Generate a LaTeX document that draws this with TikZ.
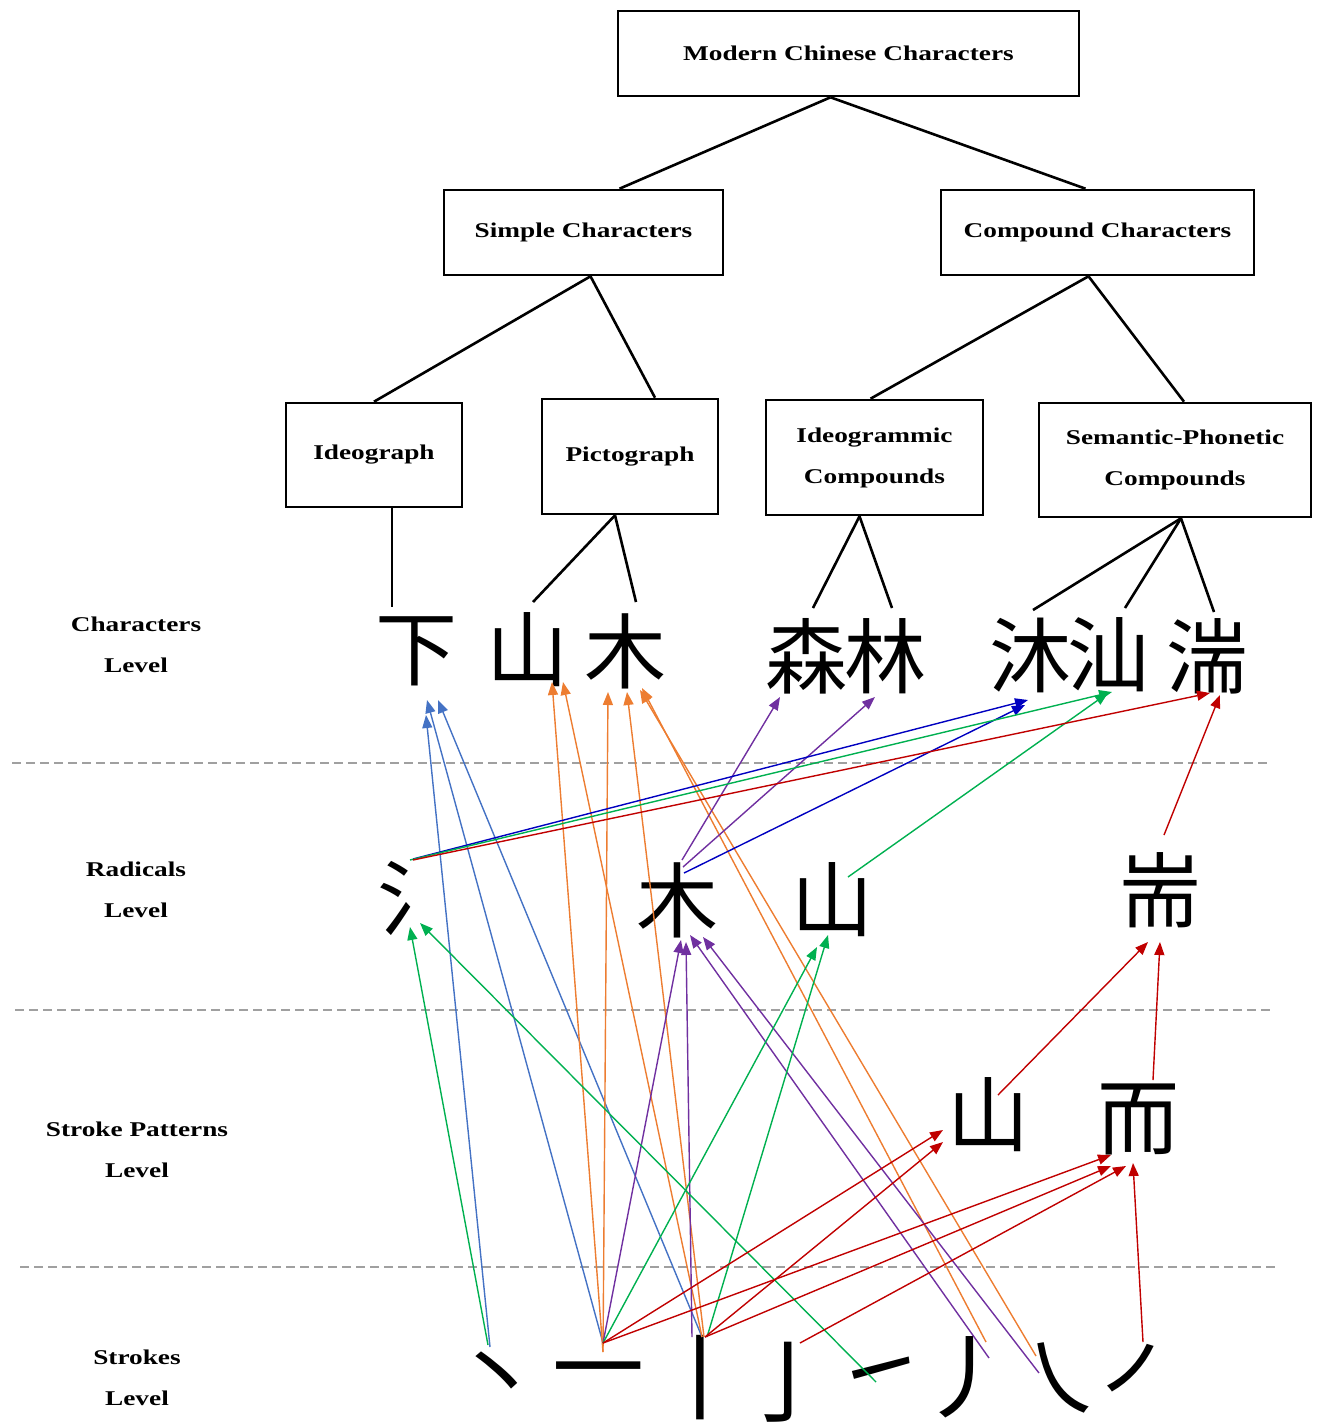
\documentclass[tikz,border=0pt]{standalone}
\usepackage{fontspec}
\setmainfont{Liberation Serif}
\newfontfamily\lblfont[FakeStretch=1.3]{Liberation Serif}
\newfontfamily\cjk{Noto Sans CJK SC}
\usetikzlibrary{arrows.meta,calc}
\definecolor{lblue}{HTML}{4472C4}
\definecolor{lorange}{HTML}{ED7D31}
\definecolor{lpurple}{HTML}{7030A0}
\definecolor{lgreen}{HTML}{00B050}
\definecolor{lred}{HTML}{C00000}
\definecolor{dblue}{HTML}{0000C0}
\definecolor{sepgray}{HTML}{A0A0A0}
\begin{document}
\begin{tikzpicture}[x=0.5pt,y=-0.5pt,
  box/.style={draw,line width=1.3pt,inner sep=0pt,align=center,
    font=\lblfont\bfseries\fontsize{10.5}{20.5}\selectfont},
  tree/.style={line width=1.3pt},
  lvl/.style={align=center,inner sep=0pt,
    font=\lblfont\bfseries\fontsize{10.5}{20.5}\selectfont},
  hz/.style={inner sep=0pt,font=\cjk\fontsize{41}{41}\selectfont},
  stk/.style={inner sep=0pt,font=\cjk\fontsize{46}{46}\selectfont},
  sep/.style={draw=sepgray,line width=0.75pt,dash pattern=on 4.5pt off 2.5pt},
  link/.style={line width=0.7pt,-{Triangle[length=6.5pt,width=5pt]}},
]
\useasboundingbox (0,0) rectangle (1317,1425);

% hierarchy boxes
\node[box,minimum width=230.5pt,minimum height=42.5pt] (top) at (848.5,53.5) {Modern Chinese Characters};
\node[box,minimum width=139.5pt,minimum height=42.5pt] (simple) at (583.5,232.5) {Simple Characters};
\node[box,minimum width=156.5pt,minimum height=42.5pt] (compound) at (1097.5,232.5) {Compound Characters};
\node[box,minimum width=88pt,minimum height=52pt] (ideo) at (374,455) {Ideograph};
\node[box,minimum width=88pt,minimum height=57.5pt] (picto) at (630,456.5) {Pictograph};
\node[box,minimum width=108.5pt,minimum height=57.5pt] (ideocomp) at (874.5,457.5) {Ideogrammic\\Compounds};
\node[box,minimum width=136pt,minimum height=57pt] (sempho) at (1175,460) {Semantic-Phonetic\\Compounds};

% level labels
\node[lvl] (l-char) at (136,645) {Characters\\Level};
\node[lvl] (l-rad) at (136,890) {Radicals\\Level};
\node[lvl] (l-pat) at (137,1150) {Stroke Patterns\\Level};
\node[lvl] (l-stk) at (137,1378) {Strokes\\Level};

% level separators
\draw[sep] (12,763) -- (1268,763);
\draw[sep] (15,1010) -- (1273,1010);
\draw[sep] (20,1267) -- (1280,1267);

% characters level
\node[hz] (c-xia) at (416,651) {下};
\node[hz] (c-shan) at (527,650) {山};
\node[hz] (c-mu) at (625,651) {木};
\node[hz] (c-sen) at (806,656) {森};
\node[hz] (c-lin) at (885,656) {林};
\node[hz] (c-mu2) at (1030,655) {沐};
\node[hz] (c-shan2) at (1108,655) {汕};
\node[hz] (c-tuan) at (1207,656) {湍};

% radicals level
\node[hz] (r-shui) at (418,898) {氵};
\node[hz] (r-mu) at (677,900) {木};
\node[hz] (r-shan) at (832,900) {山};
\node[hz] (r-duan) at (1160,890) {耑};

% stroke patterns level
\node[hz] (p-shan) at (988,1115) {山};
\node[hz] (p-er) at (1138,1119) {而};

% strokes level
\node[stk] (s-dian) at (497,1380) {丶};
\node[stk] (s-heng) at (598,1382) {一};
\node[stk] (s-shu) at (700,1378) {丨};
\node[stk] (s-gou) at (787,1382) {亅};
\node[stk] (s-ti) at (880,1380) {㇀};
\node[stk] (s-pie) at (965,1377) {丿};
\node[stk] (s-na) at (1060,1378) {㇏};
\node[stk] (s-pie2) at (1145,1380) {㇒};

% tree connectors
\draw[tree] ($(top.south)+(-18,0)$) -- ($(simple.north)+(36,0)$);
\draw[tree] ($(top.south)+(-18,0)$) -- ($(compound.north)+(-12,0)$);
\draw[tree] ($(simple.south)+(7,0)$) -- (ideo.north);
\draw[tree] ($(simple.south)+(7,0)$) -- ($(picto.north)+(25,0)$);
\draw[tree] ($(compound.south)+(-9,0)$) -- ($(ideocomp.north)+(-4,0)$);
\draw[tree] ($(compound.south)+(-9,0)$) -- ($(sempho.north)+(9,0)$);
\draw[tree] ($(ideo.south)+(18,0)$) -- ($(c-xia)+(-24,-44)$);
\draw[tree] ($(picto.south)+(-15,0)$) -- ($(c-shan)+(6,-48)$);
\draw[tree] ($(picto.south)+(-15,0)$) -- ($(c-mu)+(11,-49)$);
\draw[tree] ($(ideocomp.south)+(-15,0)$) -- ($(c-sen)+(7,-48)$);
\draw[tree] ($(ideocomp.south)+(-15,0)$) -- ($(c-lin)+(7,-48)$);
\draw[tree] ($(sempho.south)+(6,0)$) -- ($(c-mu2)+(3,-45)$);
\draw[tree] ($(sempho.south)+(6,0)$) -- ($(c-shan2)+(17,-47)$);
\draw[tree] ($(sempho.south)+(6,0)$) -- ($(c-tuan)+(7,-44)$);

% strokes -> 下
\draw[link,lblue] ($(s-dian)+(-7,-33)$) -- ($(c-xia)+(10,64)$);
\draw[link,lblue] ($(s-heng)+(5,-39)$) -- ($(c-xia)+(11,49)$);
\draw[link,lblue] ($(s-shu)+(2,-41)$) -- ($(c-xia)+(22,49)$);

% strokes -> 山, 木 (pictographs)
\draw[link,lorange] ($(s-heng)+(5,-30)$) -- ($(c-shan)+(25,32)$);
\draw[link,lorange] ($(s-shu)+(2,-41)$) -- ($(c-shan)+(36,32)$);
\draw[link,lorange] ($(s-heng)+(5,-30)$) -- ($(c-mu)+(-17,41)$);
\draw[link,lorange] ($(s-shu)+(4,-41)$) -- ($(c-mu)+(2,41)$);
\draw[link,lorange] ($(s-pie)+(21,-35)$) -- ($(c-mu)+(17,37)$);
\draw[link,lorange] ($(s-na)+(-24,-22)$) -- ($(c-mu)+(15,39)$);

% strokes -> 木 radical
\draw[link,lpurple] ($(s-heng)+(5,-39)$) -- ($(r-mu)+(4,40)$);
\draw[link,lpurple] ($(s-shu)+(-8,-41)$) -- ($(r-mu)+(9,42)$);
\draw[link,lpurple] ($(s-pie)+(24,-19)$) -- ($(r-mu)+(13,35)$);
\draw[link,lpurple] ($(s-na)+(-21,-5)$) -- ($(r-mu)+(26,37)$);

% strokes -> 氵, 山 radicals
\draw[link,lgreen] ($(s-dian)+(-9,-35)$) -- ($(r-shui)+(-8,29)$);
\draw[link,lgreen] ($(s-ti)+(-4,2)$) -- ($(r-shui)+(2,25)$);
\draw[link,lgreen] ($(s-heng)+(5,-39)$) -- ($(r-shan)+(-15,47)$);
\draw[link,lgreen] ($(s-shu)+(7,-41)$) -- ($(r-shan)+(-4,35)$);

% strokes -> 山, 而 patterns
\draw[link,lred] ($(s-heng)+(5,-39)$) -- ($(p-shan)+(-45,15)$);
\draw[link,lred] ($(s-shu)+(5,-41)$) -- ($(p-shan)+(-45,27)$);
\draw[link,lred] ($(s-heng)+(5,-39)$) -- ($(p-er)+(-27,36)$);
\draw[link,lred] ($(s-shu)+(5,-41)$) -- ($(p-er)+(-27,47)$);
\draw[link,lred] ($(s-gou)+(13,-39)$) -- ($(p-er)+(-12,47)$);
\draw[link,lred] ($(s-pie2)+(-2,-38)$) -- ($(p-er)+(-5,44)$);

% patterns -> 耑
\draw[link,lred] ($(p-shan)+(10,-20)$) -- ($(r-duan)+(-12,52)$);
\draw[link,lred] ($(p-er)+(15,-39)$) -- ($(r-duan)+(0,52)$);

% radicals -> compounds
\draw[link,lpurple] ($(r-mu)+(5,-40)$) -- ($(c-sen)+(-26,41)$);
\draw[link,lpurple] ($(r-mu)+(6,-33)$) -- ($(c-lin)+(-10,41)$);
\draw[link,dblue] ($(r-shui)+(-5,-39)$) -- ($(c-mu2)+(-2,45)$);
\draw[link,dblue] ($(r-mu)+(7,-27)$) -- ($(c-mu2)+(-5,50)$);
\draw[link,lgreen] ($(r-shui)+(-8,-38)$) -- ($(c-shan2)+(4,37)$);
\draw[link,lgreen] ($(r-shan)+(16,-23)$) -- ($(c-shan2)+(0,38)$);
\draw[link,lred] ($(r-shui)+(-5,-38)$) -- ($(c-tuan)+(3,37)$);
\draw[link,lred] ($(r-duan)+(4,-55)$) -- ($(c-tuan)+(13,39)$);
\end{tikzpicture}
\end{document}
